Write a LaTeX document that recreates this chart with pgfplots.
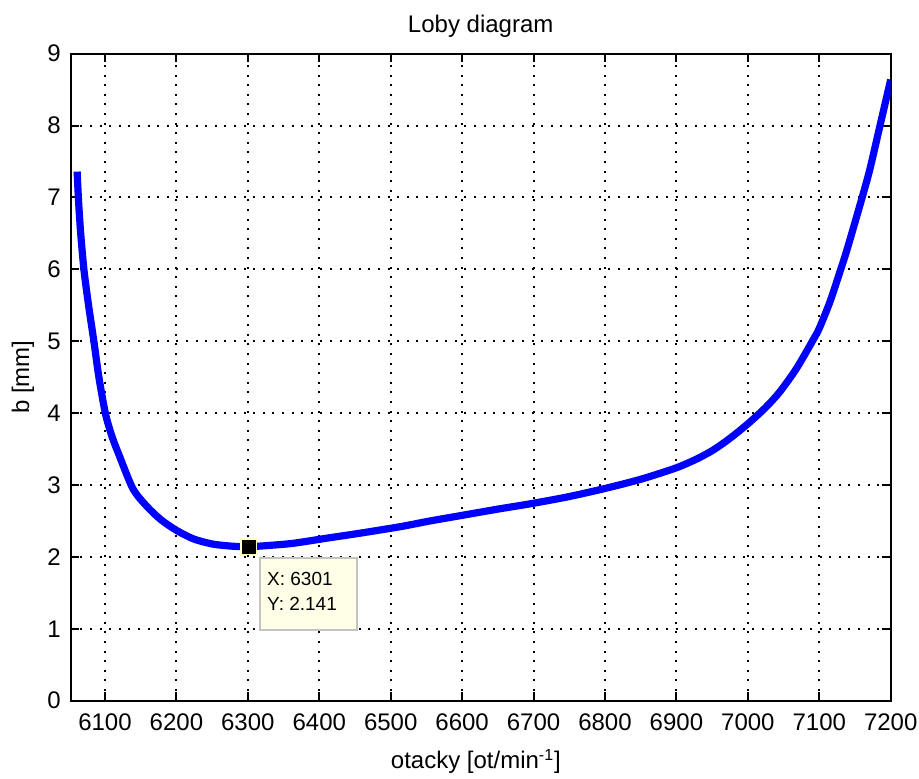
\documentclass[border=0pt]{standalone}
\usepackage{pgfplots}
\pgfplotsset{compat=1.18}
\usepackage{fontspec}
\setmainfont{Liberation Sans}
\definecolor{tipbg}{RGB}{255,255,232}
\definecolor{tipedge}{RGB}{195,195,195}
\definecolor{mkedge}{RGB}{255,255,200}
\definecolor{curveblue}{RGB}{0,0,255}
\begin{document}
\fontsize{12}{14}\selectfont
\begin{tikzpicture}
\useasboundingbox (0,0) rectangle (459.5pt,389.5pt);
\begin{axis}[
  at={(35.35pt,39.15pt)}, anchor=south west,
  scale only axis, width=410pt, height=323.5pt,
  xmin=6052, xmax=7200, ymin=0, ymax=9,
  xtick={6100,6200,...,7200}, ytick={0,1,...,9},
  scaled ticks=false,
  xticklabel style={/pgf/number format/1000 sep={}, /pgf/number format/assume math mode=true, yshift=-2.2pt},
  yticklabel style={/pgf/number format/assume math mode=true, xshift=-0.85pt},
  tick align=inside, major tick length=4.25pt,
  tick style={black, line width=1pt},
  axis line style={line width=1pt},
  grid=major,
  major grid style={black, line width=1pt, dash pattern=on 1pt off 3.8pt},
  title={Loby diagram},
  every axis title/.style={at={(axis description cs:0.5,1)}, anchor=base, yshift=10.35pt, inner sep=0pt},
  xlabel={otacky [ot/min\textsuperscript{-1}]},
  every axis x label/.style={at={(axis description cs:0.5,0)}, anchor=base, yshift=-34.15pt, xshift=-2.4pt, inner sep=0pt},
  ylabel={b [mm]},
  every axis y label/.style={at={(axis description cs:-0.0582,0.5)}, rotate=90, anchor=center, inner sep=0pt},
]
\addplot[color=curveblue, line width=3.6pt, line join=round, smooth, tension=0.45] coordinates {
(6061,7.36) (6063,6.95) (6066,6.5) (6070.6,5.99) (6077,5.5) (6084.6,4.99)
(6091.3,4.51) (6100.7,3.99) (6110,3.67) (6120,3.41) (6139,2.95) (6158,2.71)
(6178,2.52) (6200,2.37) (6224,2.25) (6250,2.18) (6270,2.156) (6285,2.145)
(6301,2.141) (6330,2.16) (6364,2.19) (6410,2.26) (6457,2.33) (6513,2.42)
(6555,2.50) (6601,2.58) (6650,2.665) (6699,2.745) (6750,2.84) (6799,2.95)
(6850,3.08) (6900,3.24) (6930,3.37) (6952,3.49) (6975,3.65) (7001,3.86)
(7025,4.08) (7045,4.30) (7068,4.62) (7092,5.03) (7100,5.18) (7115,5.55)
(7130,6.0) (7139,6.28) (7160,7.0) (7171,7.40) (7185,8.0) (7200,8.64)
};
\addplot[only marks, mark=square*, mark size=3.9pt, mark options={fill=black, draw=mkedge, line width=0.8pt}] coordinates {(6301,2.141)};
\node[anchor=north west, draw=tipedge, fill=tipbg, line width=1pt, minimum width=48.35pt, minimum height=35.85pt, inner sep=0pt, xshift=5.25pt, yshift=-5.1pt] (tip) at (axis cs:6301,2.141) {};
\node[anchor=base west, font=\fontsize{9.5}{11}\selectfont, inner sep=0pt] at ([xshift=3.85pt,yshift=-14.5pt]tip.north west) {X: 6301};
\node[anchor=base west, font=\fontsize{9.5}{11}\selectfont, inner sep=0pt] at ([xshift=3.85pt,yshift=-27pt]tip.north west) {Y: 2.141};
\end{axis}
\end{tikzpicture}
\end{document}
